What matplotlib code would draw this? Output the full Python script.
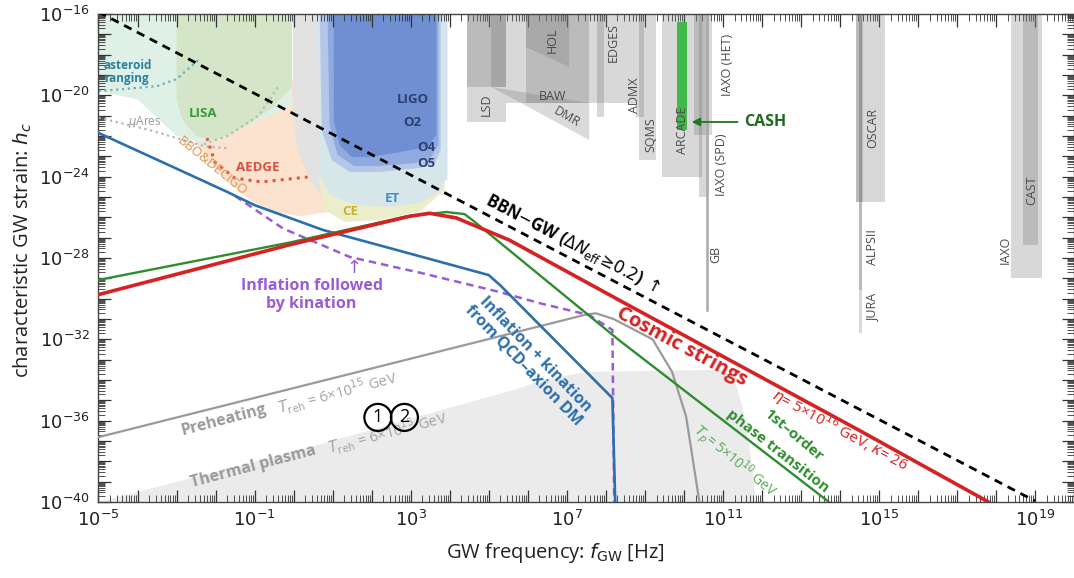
import numpy as np
import matplotlib
matplotlib.use("Agg")
import matplotlib.pyplot as plt
from matplotlib.ticker import LogLocator, FuncFormatter, NullFormatter

plt.rcParams["font.family"] = ["Open Sans", "DejaVu Sans"]
plt.rcParams["mathtext.fontset"] = "dejavusans"

# every number below is log10(frequency / Hz) or log10(h_c)

# signal curves
bbn_f = [-5.0, 19.0]
bbn_h = [-15.9, -39.95]

cs_f = [-5.0, -0.1, 2.97, 3.48, 4.17, 5.53, 8.34, 14.48, 17.81]
cs_h = [-29.8, -27.35, -25.95, -25.8, -26.03, -27.12, -30.07, -36.46, -40.0]

pt_f = [-5.0, -0.1, 2.9, 3.92, 4.38, 4.58, 8.34, 13.72]
pt_h = [-29.08, -27.24, -25.95, -25.74, -25.84, -26.13, -32.04, -40.0]

qcd_f = [-5.0, -3.37, -1.69, -1.0, 0.75, 3.3, 5.0, 5.3, 8.17, 8.25]
qcd_h = [-21.85, -23.28, -24.76, -25.4, -26.62, -27.95, -28.84, -29.35, -34.89, -40.5]

kin_f = [-1.5, -0.27, 1.44, 3.3, 5.27, 6.3, 7.58, 8.17, 8.22]
kin_h = [-24.95, -26.55, -27.95, -28.75, -29.67, -30.22, -30.81, -31.54, -40.5]

pre_f = [-5.0, 7.5, 7.75, 8.2, 9.2, 9.7, 10.06, 10.4]
pre_h = [-36.81, -30.78, -30.72, -31.0, -32.0, -33.6, -35.8, -40.0]

th_f = [-5.0, 0.16, 3.74, 5.53, 6.5, 7.5, 11.0, 11.3, 11.5, 11.7, 11.85]
th_h = [-40.0, -37.45, -35.5, -34.55, -33.95, -33.6, -33.5, -34.0, -35.3, -37.5, -40.0]

# low frequency sensitivity regions
ast_f = [-5, -0.05, -0.05, -2.2, -3.0, -4.0, -5]
ast_h = [-16, -16, -20.5, -22.4, -22.0, -20.2, -19.8]
lisa_f = [-3.0, -0.04, -0.04, -0.6, -1.3, -2.0, -2.5, -2.85, -3.0]
lisa_h = [-16, -16, -19.6, -20.7, -21.6, -22.2, -22.0, -21.2, -20.2]
bbo_f = [-2.97, -2.4, -1.76, -1.12, -0.48, 0.16, 0.92, 1.05, -0.05]
bbo_h = [-20.72, -22.69, -24.17, -25.15, -25.74, -25.94, -25.74, -20.23, -19.25]
gray_f = [-0.02, 3.94, 3.94, 0.92, 0.41, 0.10, -0.02]
gray_h = [-16, -16, -24.17, -25.4, -24.17, -22.69, -20.72]
ce_f = [0.66, 3.87, 3.87, 3.23, 2.20, 1.31, 0.80, 0.66]
ce_h = [-16, -16, -24.66, -25.74, -26.13, -26.23, -25.64, -24.3]
et_f = [0.62, 3.94, 3.94, 3.74, 3.23, 2.46, 1.56, 0.92, 0.67]
et_h = [-16, -16, -23.92, -24.76, -25.30, -25.49, -25.40, -24.90, -23.92]
o5_f = [0.67, 3.77, 3.77, 3.62, 3.23, 2.20, 1.44, 0.98, 0.72]
o5_h = [-16, -16, -22.69, -23.33, -23.57, -23.77, -23.77, -23.18, -21.71]
o4_f = [0.87, 3.71, 3.71, 3.53, 3.10, 2.20, 1.56, 1.13, 0.92]
o4_h = [-16, -16, -22.44, -23.03, -23.33, -23.48, -23.48, -22.94, -21.46]
o2_f = [1.03, 3.66, 3.66, 3.43, 2.72, 1.95, 1.49, 1.18, 1.03]
o2_h = [-16, -16, -21.95, -22.54, -22.79, -23.03, -23.03, -22.44, -21.21]

ast_line_f = [-5, -3.5, -3.0, -2.4]
ast_line_h = [-19.8, -19.55, -19.2, -18.2]
mu_f = [-5, -3.7, -2.3, -1.7]
mu_h = [-21.1, -21.7, -22.5, -22.6]
lisa_line_f = [-2.3, -1.7, -0.9, -0.4]
lisa_line_h = [-22.4, -22.0, -21.0, -19.6]
aedge_f = [-2.22, -2.02, -1.51, -0.82, 0.36]
aedge_h = [-22.10, -23.28, -24.07, -24.26, -24.02]

# high frequency proposals: (f_lo, f_hi, h_bottom)
bars = [
    (4.455, 5.453, -21.31),
    (4.455, 5.453, -19.59),
    (5.069, 5.453, -19.59),
    (5.453, 8.78, -20.38),
    (5.96, 7.577, -20.38),
    (7.78, 7.96, -21.07),
    (8.78, 8.985, -21.07),
    (8.857, 9.292, -23.18),
    (9.445, 10.469, -24.02),
    (10.264, 10.725, -21.95),
    (10.39, 10.65, -25.0),
    (14.41, 15.15, -25.25),
    (14.41, 14.59, -25.25),
    (14.48, 14.56, -29.58),
    (14.48, 14.56, -31.69),
    (18.38, 19.17, -28.99),
    (18.69, 19.09, -27.36),
]
hol_f = [5.96, 7.06, 7.06, 5.96]
hol_h = [-16, -16, -18.61, -17.62]
dmr_f = [5.069, 7.577, 7.577]
dmr_h = [-19.59, -20.38, -22.2]
gb_f = 10.6
gb_h = -30.56
cash_f = (9.829, 10.085)
cash_h = (-16.39, -21.71)

det_labels = [
    ("LSD", 4.94, -20.48, 90), ("HOL", 6.63, -17.28, 90), ("BAW", 6.63, -20.08, 0),
    ("DMR", 6.99, -21.07, -30), ("EDGES", 8.19, -17.38, 90), ("ADMX", 8.73, -19.98, 90),
    ("SQMS", 9.16, -21.95, 90), ("ARCADE", 9.96, -21.71, 90), ("IAXO (HET)", 11.11, -18.51, 90),
    ("IAXO (SPD)", 10.96, -23.43, 90), ("GB", 10.83, -27.85, 90), ("OSCAR", 14.84, -21.61, 90),
    ("ALPSII", 14.84, -27.46, 90), ("JURA", 14.84, -30.46, 90), ("CAST", 18.91, -24.66, 90),
    ("IAXO", 18.25, -27.61, 90),
]


def P(lf, lh):
    return 10.0 ** np.asarray(lf, dtype=float), 10.0 ** np.asarray(lh, dtype=float)


fig = plt.figure(figsize=(10.74, 5.78), dpi=100)
ax = fig.add_axes([0.0917, 0.1315, 0.9083, 0.8443])
ax.set_xscale("log")
ax.set_yscale("log")

# thermal plasma
ax.fill(*P(th_f, th_h), color="#ebebeb", lw=0, zorder=1)

# detector regions
for rf, rh, col, a in [
    (bbo_f, bbo_h, "#fbe3cf", 1), (ast_f, ast_h, "#dff0e7", 1), (lisa_f, lisa_h, "#d4e6c7", 1),
    (gray_f, gray_h, "#e2e2e2", 1), (ce_f, ce_h, "#eceecb", 1), (et_f, et_h, "#cfe4f4", 0.75),
    (o5_f, o5_h, "#b4c7e9", 1), (o4_f, o4_h, "#8eaadf", 1), (o2_f, o2_h, "#6f8fd2", 1),
]:
    ax.fill(*P(rf, rh), color=col, alpha=a, lw=0, zorder=1.5)

ax.plot(*P(ast_line_f, ast_line_h), ls=":", color="#6aaebd", lw=1.6, zorder=2)
ax.plot(*P(mu_f, mu_h), ls=":", color="#b5b5b5", lw=1.6, zorder=2)
ax.plot(*P(lisa_line_f, lisa_line_h), ls=":", color="#a8c4a8", lw=1.6, zorder=2)
ax.plot(*P(aedge_f, aedge_h), ls=":", color="#dd5b44", lw=2.2, zorder=2)

for lo, hi, bot in bars:
    ax.fill(*P([lo, hi, hi, lo], [-16, -16, bot, bot]), color="0.45", alpha=0.28, lw=0, zorder=2)
ax.fill(*P(hol_f, hol_h), color="0.45", alpha=0.26, lw=0, zorder=2)
ax.fill(*P(dmr_f, dmr_h), color="0.45", alpha=0.26, lw=0, zorder=2)
ax.plot(*P([gb_f, gb_f], [-16, gb_h]), color="#aaaaaa", lw=1.8, zorder=2)
ax.fill(*P([cash_f[0], cash_f[1], cash_f[1], cash_f[0]], [cash_h[0], cash_h[0], cash_h[1], cash_h[1]]),
        color="#3fb94a", lw=0, zorder=2.5)

# curves
ax.plot(*P(pre_f, pre_h), color="#9a9a9a", lw=1.6, zorder=3)
ax.plot(*P(kin_f, kin_h), color="#9b5bd6", lw=1.8, ls=(0, (3, 2)), zorder=3)
ax.plot(*P(qcd_f, qcd_h), color="#2c6fad", lw=1.9, zorder=3.2)
ax.plot(*P(pt_f, pt_h), color="#2e8e2e", lw=1.7, zorder=3.3)
ax.plot(*P(cs_f, cs_h), color="#d62222", lw=2.6, zorder=3.4)
ax.plot(*P(bbn_f, bbn_h), color="black", lw=2.0, ls=(0, (3, 2.2)), zorder=3.5)

# labels of regions
ax.text(*P(-4.86, -18.85), "asteroid\nranging", color="#2b7f9e", fontsize=8.5, fontweight="bold",
        ha="left", va="center", linespacing=1.0, zorder=5)
ax.text(*P(-3.81, -21.31), r"$\mu$Ares", color="#9a9a9a", fontsize=8.5, ha="center", va="center", zorder=5)
ax.text(*P(-2.32, -20.87), "LISA", color="#3a9a3a", fontsize=9.5, fontweight="bold", ha="center", va="center", zorder=5)
ax.text(*P(-2.09, -23.5), "BBO&DECIGO", color="#e0944a", fontsize=9.5, rotation=-39,
        ha="center", va="center", zorder=5)
ax.text(*P(-0.91, -23.53), "AEDGE", color="#d9503f", fontsize=9.5, fontweight="bold", ha="center", va="center", zorder=5)
for s, lf, lh in [("LIGO", 3.05, -20.23), ("O2", 3.05, -21.36), ("O4", 3.40, -22.59), ("O5", 3.40, -23.33)]:
    ax.text(*P(lf, lh), s, color="#2a3f73", fontsize=9.5, fontweight="bold", ha="center", va="center", zorder=5)
ax.text(*P(2.54, -25.05), "ET", color="#3d8fd1", fontsize=9.5, fontweight="bold", ha="center", va="center", zorder=5)
ax.text(*P(1.44, -25.69), "CE", color="#c9b52a", fontsize=9.5, fontweight="bold", ha="center", va="center", zorder=5)

for s, lf, lh, rot in det_labels:
    ax.text(*P(lf, lh), s, color="#4a4a4a", fontsize=9, rotation=rot, ha="center", va="center", zorder=5)

ax.annotate("", xy=P(10.13, -21.31), xytext=P(11.45, -21.31),
            arrowprops=dict(arrowstyle="-|>", color="#1e7a1e", lw=1.3, mutation_scale=12), zorder=5)
ax.text(*P(12.08, -21.31), "CASH", color="#1a6b1a", fontsize=11.5, fontweight="bold", ha="center", va="center", zorder=5)

# labels of curves
ax.text(*P(7.15, -27.3), r"BBN$-$GW ($\Delta N_{\rm eff}\!\geq\!0.2$) $\uparrow$", fontsize=12, fontweight="bold",
        rotation=-27.5, ha="center", va="center", zorder=5)
ax.text(*P(9.96, -32.38), "Cosmic strings", color="#d62222", fontsize=14.5, fontweight="bold",
        rotation=-28.4, ha="center", va="center", zorder=5)
ax.text(*P(14.02, -36.46), r"$\eta$= 5×10$^{16}$ GeV, $\kappa$= 26", color="#d62222", fontsize=11,
        rotation=-28.4, ha="center", va="center", zorder=5)
ax.text(*P(12.8, -36.7), "1st–order", color="#2e8e2e", fontsize=11, fontweight="bold",
        rotation=-40, ha="center", va="center", zorder=5)
ax.text(*P(12.4, -37.5), "phase transition", color="#2e8e2e", fontsize=11, fontweight="bold",
        rotation=-38, ha="center", va="center", zorder=5)
ax.text(*P(11.3, -38.0), r"$T_p$= 5×10$^{10}$ GeV", color="#5aaa5a", fontsize=10,
        rotation=-40, ha="center", va="center", zorder=5)
ax.text(*P(6.04, -33.02), "Inflation + kination\nfrom QCD–axion DM", color="#2c6fad", fontsize=11.5,
        fontweight="bold", rotation=-46, ha="center", va="center", linespacing=1.05, zorder=5)
ax.text(*P(0.46, -29.82), "Inflation followed\nby kination", color="#9b5bd6", fontsize=11.5,
        fontweight="bold", ha="center", va="center", linespacing=1.1, zorder=5)
ax.text(*P(1.49, -28.5), r"$\uparrow$", color="#9b5bd6", fontsize=13, ha="center", va="center", zorder=5)
ax.text(*P(-1.79, -35.97), "Preheating", color="#9a9a9a", fontsize=11.5, fontweight="bold",
        rotation=14.8, ha="center", va="center", zorder=5)
ax.text(*P(1.13, -34.64), r"$T_{\rm reh}$ = 6×10$^{15}$ GeV", color="#a5a5a5", fontsize=10.5,
        rotation=14.8, ha="center", va="center", zorder=5)
ax.text(*P(-1.04, -38.28), "Thermal plasma", color="#9a9a9a", fontsize=11.5, fontweight="bold",
        rotation=14.8, ha="center", va="center", zorder=5)
ax.text(*P(2.41, -36.61), r"$T_{\rm reh}$ = 6×10$^{15}$ GeV", color="#a5a5a5", fontsize=10.5,
        rotation=14.8, ha="center", va="center", zorder=5)
for s, lf in [("1", 2.16), ("2", 2.84)]:
    ax.text(*P(lf, -35.84), s, color="black", fontsize=13, ha="center", va="center", zorder=6,
            bbox=dict(boxstyle="circle,pad=0.25", fc="none", ec="black", lw=1.6))

# axes
ax.set_xlim(1e-5, 1e20)
ax.set_ylim(1e-40, 1e-16)


def xfmt(v, pos):
    e = int(round(np.log10(v)))
    return f"$10^{{{e}}}$" if (e + 5) % 4 == 0 else ""


def yfmt(v, pos):
    e = int(round(np.log10(v)))
    return f"$10^{{{e}}}$" if (e + 16) % 4 == 0 else ""


for axis, fmt in [(ax.xaxis, xfmt), (ax.yaxis, yfmt)]:
    axis.set_major_locator(LogLocator(base=10, numticks=60))
    axis.set_minor_locator(LogLocator(base=10, subs=np.arange(2, 10), numticks=200))
    axis.set_major_formatter(FuncFormatter(fmt))
    axis.set_minor_formatter(NullFormatter())

ax.tick_params(which="both", direction="in", top=True, right=True, colors="#333333", labelcolor="#222222")
ax.tick_params(which="major", length=9, width=0.9, labelsize=13, pad=6)
ax.tick_params(which="minor", length=5, width=0.6)
for sp in ax.spines.values():
    sp.set_color("#444444")
    sp.set_linewidth(1.0)

fig.text(555 / 1074, 1 - 553 / 578, r"GW frequency: $f_{\rm GW}$ [Hz]", fontsize=14.5,
         ha="center", va="center", color="#222222")
fig.text(23 / 1074, 1 - 250 / 578, r"characteristic GW strain: $h_c$", fontsize=14.5,
         rotation=90, ha="center", va="center", color="#222222")

fig.savefig("out.png", dpi=100)
